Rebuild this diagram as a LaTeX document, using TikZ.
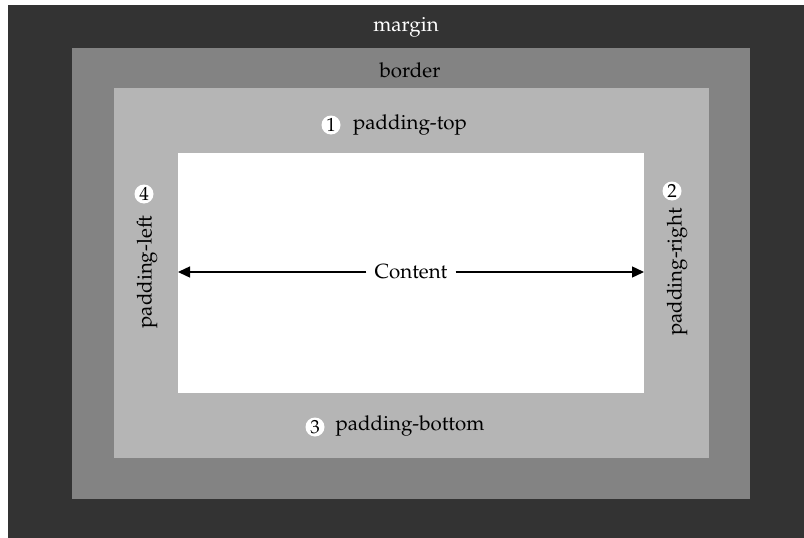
\documentclass[tikz,border=0pt]{standalone}
\usepackage[T1]{fontenc}
\usepackage{mathpazo}
\usetikzlibrary{arrows.meta}
\definecolor{marginc}{HTML}{333333}
\definecolor{borderc}{HTML}{838383}
\definecolor{paddingc}{HTML}{B5B5B5}
\tikzset{
  lbl/.style={font=\fontsize{20.5}{24}\selectfont, inner sep=0pt},
  num/.style={circle, fill=white, minimum size=19pt, inner sep=0pt, font=\fontsize{19}{20}\selectfont},
  arr/.style={line width=1.4pt, -{Triangle[length=12pt,width=11pt]}},
}
\begin{document}
\begin{tikzpicture}[x=1pt,y=-1pt]
\useasboundingbox (0,0) rectangle (804,538);
\fill[white] (0,0) rectangle (804,538);
\fill[marginc] (8,5) rectangle (804,538);
\fill[borderc] (72,48) rectangle (750,499);
\fill[paddingc] (114,88) rectangle (709,458);
\fill[white] (178,153) rectangle (644,393);
\coordinate (cl) at (178,272);
\coordinate (cr) at (644,272);
\node[lbl, text=white] (margin) at (406,27) {margin};
\node[lbl] (border) at (410,70) {border};
\node[lbl] (ptop) at (410,125) {padding-top};
\node[num] (n1) at (331,125) {1};
\node[lbl] (pbot) at (410,426) {padding-bottom};
\node[num] (n3) at (315,427) {3};
\node[lbl, rotate=90] (pleft) at (147,272) {padding-left};
\node[num] (n4) at (144,194) {4};
\node[lbl, rotate=90] (pright) at (677,272) {padding-right};
\node[num] (n2) at (672,191) {2};
\node[lbl, fill=white, inner xsep=8pt, inner ysep=3pt] (content) at (411,272) {Content};
\draw[arr] (content.west) -- (cl);
\draw[arr] (content.east) -- (cr);
\end{tikzpicture}
\end{document}
